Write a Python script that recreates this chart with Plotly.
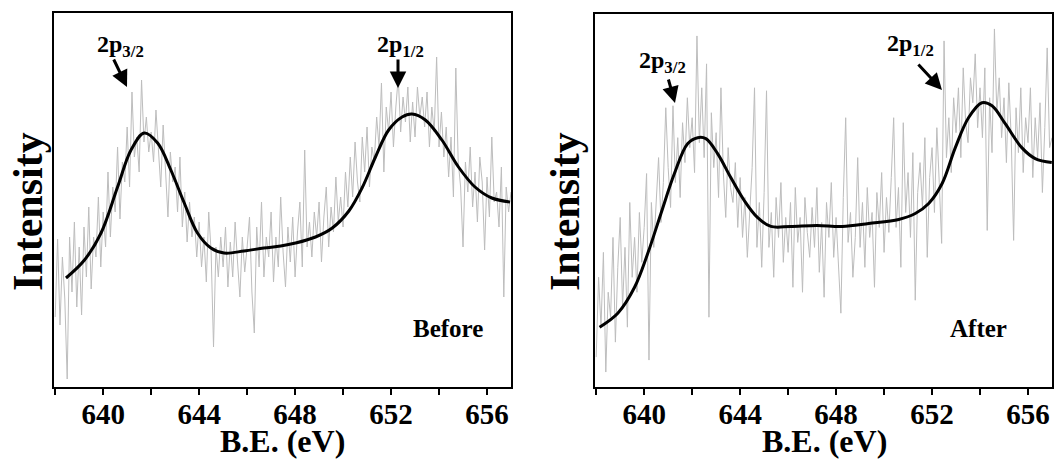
import plotly.graph_objects as go

W, H = 1055, 459

# ---------------- data ----------------
# binding energy grid of the raw spectra (eV), 638.0 .. 657.0 in 0.1 eV steps
be_raw = [round(638.0 + 0.1 * i, 1) for i in range(191)]

before_raw = [
    70, 148, 62, 130, 88, 8, 150, 95, 165, 80,
    140, 72, 160, 110, 180, 98, 150, 130, 190, 120,
    175, 140, 215, 150, 200, 175, 240, 168, 225, 205,
    260, 200, 295, 230, 250, 215, 307, 245, 270, 235,
    255, 225, 277, 240, 200, 262, 215, 170, 235, 205,
    220, 175, 230, 160, 195, 145, 185, 150, 170, 130,
    165, 120, 150, 105, 175, 135, 40, 140, 110, 150,
    120, 160, 100, 145, 110, 165, 125, 90, 150, 115,
    140, 170, 95, 54, 160, 120, 185, 110, 150, 130,
    175, 105, 150, 120, 190, 135, 100, 160, 125, 170,
    110, 155, 185, 120, 237, 140, 165, 130, 175, 150,
    185, 125, 170, 200, 140, 180, 155, 210, 165, 190,
    160, 215, 180, 230, 190, 245, 205, 185, 250, 215,
    260, 200, 240, 225, 270, 240, 304, 215, 280, 255,
    295, 240, 280, 310, 255, 290, 265, 300, 245, 285,
    250, 300, 270, 290, 260, 295, 240, 280, 255, 330,
    240, 275, 230, 260, 210, 250, 190, 319, 225, 200,
    140, 225, 195, 240, 180, 215, 165, 230, 205, 137,
    210, 170, 250, 185, 195, 160, 220, 90, 200, 175,
    195,
]

after_raw = [
    30, 110, 60, 135, 15, 95, 70, 150, 45, 120,
    170, 80, 140, 60, 185, 110, 150, 95, 175, 125,
    160, 214, 27, 185, 140, 190, 230, 165, 205, 280,
    220, 180, 282, 205, 250, 190, 265, 225, 290, 240,
    270, 215, 352, 245, 300, 230, 324, 70, 275, 220,
    255, 190, 300, 215, 170, 240, 200, 185, 225, 160,
    210, 150, 190, 130, 175, 220, 300, 140, 185, 120,
    195, 297, 140, 175, 110, 190, 150, 205, 125, 170,
    135, 185, 100, 200, 145, 170, 95, 190, 155, 130,
    180, 140, 200, 115, 165, 90, 185, 150, 205, 130,
    170, 125, 74, 190, 270, 145, 175, 110, 150, 230,
    140, 185, 120, 200, 150, 175, 100, 195, 160, 215,
    135, 190, 155, 210, 270, 160, 200, 120, 265, 175,
    215, 150, 235, 87, 195, 225, 180, 250, 130, 210,
    240, 175, 260, 205, 144, 347, 230, 270, 215, 290,
    255, 300, 230, 320, 265, 245, 310, 285, 334, 260,
    300, 250, 320, 157, 290, 235, 359, 275, 310, 250,
    290, 225, 305, 250, 147, 280, 235, 300, 215, 270,
    245, 300, 210, 270, 230, 285, 195, 260, 340, 240,
    250,
]

# fitted envelopes
before_fit_be = [638.45, 639.22, 639.91, 640.6, 641.16, 641.71, 642.27, 642.82,
                 643.38, 643.93, 644.49, 645.04, 645.87, 646.7, 647.4, 648.02,
                 648.85, 649.55, 650.24, 650.79, 651.35, 651.9, 652.46, 652.87,
                 653.43, 654.12, 654.81, 655.5, 656.2, 656.96]
before_fit = [109, 127, 154, 200, 237, 254, 244, 217,
              184, 154, 139, 134, 136, 139, 141, 144,
              150, 159, 176, 199, 230, 257, 270, 273,
              267, 247, 220, 200, 189, 185]

after_fit_be = [638.14, 638.9, 639.6, 640.15, 640.7, 641.26, 641.81, 642.23,
                642.57, 643.06, 643.61, 644.17, 644.72, 645.28, 646.1, 647.2,
                648.26, 649.36, 650.61, 651.3, 651.86, 652.42, 652.97, 653.52,
                654.08, 654.5, 655.05, 655.74, 656.3, 656.99]
after_fit = [60, 74, 100, 134, 174, 214, 244, 250,
             249, 234, 210, 187, 170, 161, 161, 162,
             161, 164, 168, 174, 184, 204, 240, 270,
             285, 282, 264, 240, 229, 225]

tick_vals = [640, 644, 648, 652, 656]
tick_text = ["640", "644", "648", "652", "656"]

# ---------------- figure ----------------
GRAY = "#bdbdbd"
SERIF = "Liberation Serif"

fig = go.Figure()
fig.add_trace(go.Scatter(x=be_raw, y=before_raw, mode="lines",
                         line=dict(color=GRAY, width=1), xaxis="x", yaxis="y",
                         showlegend=False, hoverinfo="skip"))
fig.add_trace(go.Scatter(x=before_fit_be, y=before_fit, mode="lines",
                         line=dict(color="black", width=3, shape="spline"),
                         xaxis="x", yaxis="y", showlegend=False))
fig.add_trace(go.Scatter(x=be_raw, y=after_raw, mode="lines",
                         line=dict(color=GRAY, width=1), xaxis="x2", yaxis="y2",
                         showlegend=False, hoverinfo="skip"))
fig.add_trace(go.Scatter(x=after_fit_be, y=after_fit, mode="lines",
                         line=dict(color="black", width=3, shape="spline"),
                         xaxis="x2", yaxis="y2", showlegend=False))


def px(x):
    return x / W


def py(y):
    return 1 - y / H


xcommon = dict(range=[637.95, 657.0], tickmode="array", tickvals=tick_vals,
               ticktext=tick_text,
               ticks="outside", ticklen=6, tickwidth=2,
               tickcolor="black", showline=True, linecolor="black", linewidth=2,
               mirror=True, showgrid=False, zeroline=False, ticklabelstandoff=-6,
               minor=dict(ticks="outside", ticklen=6, tickwidth=2, tickcolor="black",
                          tick0=638, dtick=2, showgrid=False),
               tickfont=dict(family="Liberation Serif, Times New Roman, serif", size=29,
                             color="black", weight="bold"))
ycommon = dict(range=[0, 374], showticklabels=False, ticks="", showline=True,
               linecolor="black", linewidth=2, mirror=True, showgrid=False,
               zeroline=False)

fig.update_layout(
    width=W, height=H, autosize=False,
    margin=dict(l=0, r=0, t=0, b=0),
    font=dict(family="Liberation Serif, Times New Roman, serif", color="black",
              weight="bold"),
    paper_bgcolor="white", plot_bgcolor="white",
    xaxis=dict(domain=[px(54), px(511)], anchor="y", **xcommon),
    yaxis=dict(domain=[py(387), py(13)], anchor="x", **ycommon),
    xaxis2=dict(domain=[px(595), px(1052)], anchor="y2", **xcommon),
    yaxis2=dict(domain=[py(387), py(14)], anchor="x2", **ycommon),
)

ann = []
lab = dict(family=SERIF, color="black", weight="bold")
C = dict(xref="paper", yref="paper", xanchor="center", yanchor="middle", showarrow=False)
# axis titles
for cx in (28, 565):
    ann.append(dict(x=px(cx), y=py(212), text="<b>Intensity</b>", textangle=-90,
                    font=dict(size=42, **lab), **C))
for cx in (282, 824):
    ann.append(dict(x=px(cx), y=py(441), text="<b>B.E. (eV)</b>",
                    font=dict(size=32, **lab), **C))
# peak labels
for cx, cy, t in ((120, 46, "2p<sub>3/2</sub>"), (400, 46, "2p<sub>1/2</sub>"),
                  (662, 62, "2p<sub>3/2</sub>"), (910, 45, "2p<sub>1/2</sub>")):
    ann.append(dict(x=px(cx), y=py(cy), text="<b>%s</b>" % t,
                    font=dict(size=24, **lab), **C))
# arrows (head position, tail offset in px)
for hx, hy, ax, ay in ((127, 87, -14, -29), (398, 88, 0, -30),
                       (675, 103, -7, -25), (942, 90, -25, -27)):
    ann.append(dict(x=px(hx), y=py(hy), xref="paper", yref="paper", text="",
                    showarrow=True, ax=ax, ay=ay, arrowhead=2, arrowsize=1.1,
                    arrowwidth=3, arrowcolor="black", standoff=0))
# sample labels
ann.append(dict(x=px(448), y=py(328), text="<b>Before</b>", font=dict(size=25, **lab), **C))
ann.append(dict(x=px(978), y=py(328), text="<b>After</b>", font=dict(size=25, **lab), **C))
fig.update_layout(annotations=ann)

fig.write_html("out.html", config={"displayModeBar": False},
               post_script="document.body.style.margin='0px';document.body.style.padding='0px';")
